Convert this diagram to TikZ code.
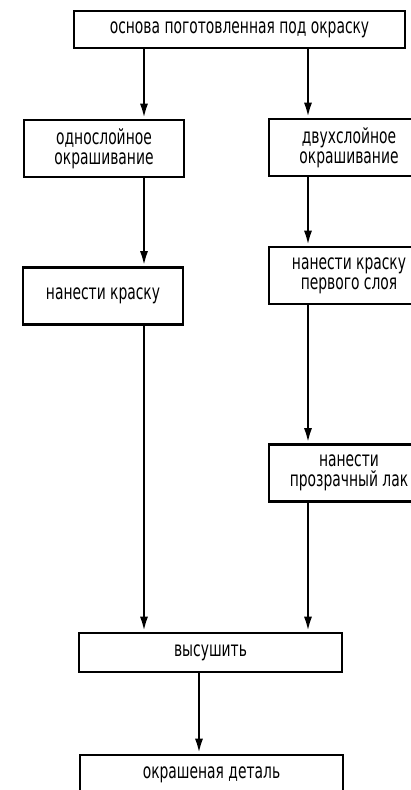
\documentclass[tikz,border=0pt]{standalone}
\usepackage{fontspec}
\setmainfont{DejaVu Sans}[FakeStretch=0.66]
\usetikzlibrary{arrows.meta}
\begin{document}
\begin{tikzpicture}[x=1pt,y=-1pt,
  box/.style={draw,line width=2.6pt,minimum width=160pt,minimum height=57pt,inner sep=0pt,align=center,font=\fontsize{21}{20}\selectfont},
  wide/.style={box,minimum width=263pt,minimum height=39pt},
  arr/.style={line width=2.6pt,-{Latex[length=15pt,width=8pt]}}]
\useasboundingbox (0,0) rectangle (411,790);
\clip (0,0) rectangle (411,790);
\node[box,minimum width=331pt,minimum height=37pt] (top) at (239.5,29.5) {основа поготовленная под окраску};
\node[box] (l1) at (104,148.5) {однослойное\\окрашивание};
\node[box] (r1) at (349,147.5) {двухслойное\\окрашивание};
\node[box] (l2) at (103,296) {нанести краску};
\node[box] (r2) at (349,275.5) {нанести краску\\первого слоя};
\node[box] (r3) at (349,473) {нанести\\прозрачный лак};
\node[wide] (dry) at (210.5,652.5) {высушить};
\node[wide] (fin) at (211.5,774.5) {окрашеная деталь};
\coordinate (xl) at (144,0);
\coordinate (xr) at (308,0);
\coordinate (xm) at (199,0);
\draw[arr] (top.south -| xl) -- (l1.north -| xl);
\draw[arr] (top.south -| xr) -- (r1.north -| xr);
\draw[arr] (l1.south -| xl) -- (l2.north -| xl);
\draw[arr] (r1.south -| xr) -- (r2.north -| xr);
\draw[arr] (r2.south -| xr) -- (r3.north -| xr);
\draw[arr] (l2.south -| xl) -- (dry.north -| xl);
\draw[arr] (r3.south -| xr) -- (dry.north -| xr);
\draw[arr] (dry.south -| xm) -- (fin.north -| xm);
\end{tikzpicture}
\end{document}
